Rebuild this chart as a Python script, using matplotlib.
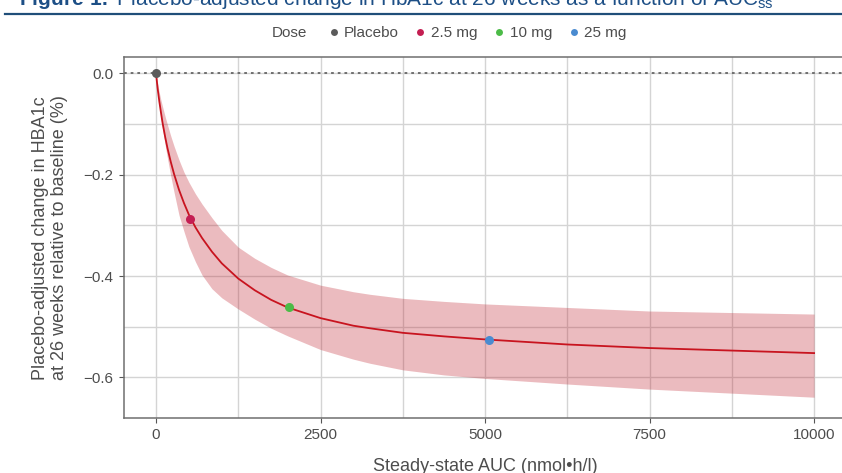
import matplotlib
matplotlib.use("Agg")
from matplotlib import pyplot as plt
from matplotlib.lines import Line2D
from matplotlib.ticker import MultipleLocator

# exposure-response curve
auc = [0, 10, 25, 50, 75, 100, 140, 175, 225, 275, 350, 425, 500, 600, 700,
       850, 1000, 1250, 1500, 1750, 2000, 2500, 3000, 3250, 3750, 4375,
       5000, 6250, 7500, 8750, 10000]
fit = [0, -0.012, -0.03, -0.055, -0.077, -0.098, -0.126, -0.148, -0.175,
       -0.199, -0.23, -0.256, -0.279, -0.304, -0.325, -0.352, -0.375,
       -0.405, -0.428, -0.447, -0.462, -0.483, -0.498, -0.503, -0.512,
       -0.519, -0.525, -0.535, -0.542, -0.547, -0.552]
upper = [0, -0.008, -0.02, -0.038, -0.053, -0.066, -0.086, -0.102, -0.124,
         -0.144, -0.171, -0.195, -0.215, -0.238, -0.258, -0.285, -0.31,
         -0.343, -0.365, -0.383, -0.398, -0.418, -0.431, -0.436, -0.444,
         -0.45, -0.455, -0.462, -0.469, -0.472, -0.475]
lower = [0, -0.015, -0.033, -0.062, -0.088, -0.11, -0.142, -0.168, -0.203,
         -0.235, -0.28, -0.312, -0.342, -0.372, -0.398, -0.425, -0.443,
         -0.465, -0.485, -0.503, -0.518, -0.545, -0.564, -0.572, -0.585,
         -0.595, -0.602, -0.613, -0.623, -0.631, -0.639]

doses = ["Placebo", "2.5 mg", "10 mg", "25 mg"]
dose_auc = [0, 520, 2020, 5060]
dose_chg = [0, -0.288, -0.462, -0.526]
dose_colors = ["#5b5b5b", "#c41e52", "#4cbb47", "#4a8bd0"]

plt.rcParams["font.family"] = ["Liberation Sans", "DejaVu Sans"]
plt.rcParams["mathtext.fontset"] = "custom"
plt.rcParams["mathtext.rm"] = "Liberation Sans"
plt.rcParams["mathtext.bf"] = "Liberation Sans:bold"

W, H = 842, 473
fig = plt.figure(figsize=(W / 100, H / 100), dpi=100)
ax = fig.add_axes([124 / W, (H - 418) / H, 723 / W, 361 / H])

ax.set_xlim(-486, 10500)
ax.set_ylim(-0.68, 0.032)
ax.set_axisbelow(True)
ax.set_xticks([0, 2500, 5000, 7500, 10000])
ax.set_yticks([0, -0.2, -0.4, -0.6])
ax.xaxis.set_minor_locator(MultipleLocator(1250))
ax.yaxis.set_minor_locator(MultipleLocator(0.1))
ax.grid(True, which="both", color="#d4d4d4", lw=1.0)
ax.tick_params(which="minor", length=0)
ax.tick_params(which="major", length=3.5, width=0.8, color="#555555",
               labelcolor="#4d4d4d", labelsize=11, pad=4)
for side in ["top", "bottom", "left", "right"]:
    ax.spines[side].set_color("#6f6f6f")
    ax.spines[side].set_linewidth(1.1)

ax.axhline(0, color="#666666", lw=1.3, ls=(0, (1.5, 2.2)), zorder=2)
ax.fill_between(auc, lower, upper, color="#c0202c", alpha=0.3, lw=0,
                zorder=3)
ax.plot(auc, fit, color="#c8141f", lw=1.3, zorder=4)
for a, c, col in zip(dose_auc, dose_chg, dose_colors):
    ax.plot(a, c, "o", color=col, ms=6.5, mec="none", zorder=5)

# y and x labels
fig.text(50 / W, 1 - 238 / H,
         "Placebo-adjusted change in HBA1c\nat 26 weeks relative to baseline (%)",
         rotation=90, ha="center", va="center", fontsize=13,
         color="#4d4d4d", linespacing=1.15)
fig.text(485 / W, 2 / H, "Steady-state AUC (nmol\u2022h/l)", ha="center",
         va="baseline", fontsize=13, color="#4d4d4d")

# title and rule
fig.text(19 / W, 1 - 5 / H,
         r"$\bf{Figure\ 1.}$ Placebo-adjusted change in HbA1c at 26 weeks "
         r"as a function of AUC$_{\rm ss}$",
         ha="left", va="baseline", fontsize=15, color="#1d4f86")
fig.add_artist(Line2D([5 / W, 1], [1 - 14 / H, 1 - 14 / H],
                      color="#1f4e79", lw=1.6))

# legend
fig.text(272 / W, 1 - 33 / H, "Dose", ha="left", va="center", fontsize=11,
         color="#4d4d4d")
handles = [Line2D([], [], ls="none", marker="o", ms=5, mec="none",
                  color=col) for col in dose_colors]
fig.legend(handles, doses, loc="center", bbox_to_anchor=(477 / W, 1 - 33 / H),
           ncol=4, frameon=False, fontsize=11, handlelength=0.8,
           handletextpad=0.3, columnspacing=1.0, labelcolor="#4d4d4d",
           borderpad=0, borderaxespad=0)

fig.savefig("out.png", dpi=100)
